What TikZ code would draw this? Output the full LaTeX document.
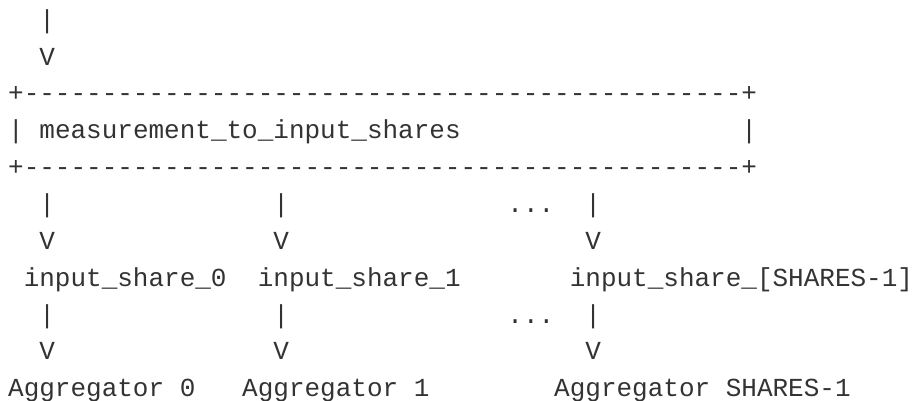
\documentclass[tikz,border=0pt]{standalone}
\usepackage{fontspec}
\setmonofont{Liberation Mono}
\definecolor{ink}{HTML}{333333}
\newcommand{\tenDash}{----------}
\begin{document}
\begin{tikzpicture}[x=1pt,y=1pt,
  ascii/.style={anchor=base west, inner sep=0pt, outer sep=0pt, text=ink,
    font=\ttfamily\fontsize{26}{30}\selectfont}]
\useasboundingbox (0,0) rectangle (913,-401);
% column c -> x = 8.2 + 15.6*c ; row r -> baseline y = -(28.3 + 36.84*(r-1))
\newcommand{\tok}[4]{\node[ascii] (#4) at ({8.2+15.6*#1},{-(28.3+36.84*(#2-1))}) {#3};}
% row 1-2
\tok{2}{1}{|}{inpipe}
\tok{2}{2}{V}{inarrow}
% box
\tok{0}{3}{+\tenDash\tenDash\tenDash\tenDash------+}{boxtop}
\tok{0}{4}{|}{boxleft}
\tok{2}{4}{measurement\_to\_input\_shares}{boxlabel}
\tok{47}{4}{|}{boxright}
\tok{0}{5}{+\tenDash\tenDash\tenDash\tenDash------+}{boxbottom}
% row 6-7
\tok{2}{6}{|}{pipeAa}
\tok{17}{6}{|}{pipeBa}
\tok{32}{6}{...}{dotsA}
\tok{37}{6}{|}{pipeCa}
\tok{2}{7}{V}{arrAa}
\tok{17}{7}{V}{arrBa}
\tok{37}{7}{V}{arrCa}
% row 8
\tok{1}{8}{input\_share\_0}{shareA}
\tok{16}{8}{input\_share\_1}{shareB}
\tok{36}{8}{input\_share\_[SHARES-1]}{shareC}
% row 9-10
\tok{2}{9}{|}{pipeAb}
\tok{17}{9}{|}{pipeBb}
\tok{32}{9}{...}{dotsB}
\tok{37}{9}{|}{pipeCb}
\tok{2}{10}{V}{arrAb}
\tok{17}{10}{V}{arrBb}
\tok{37}{10}{V}{arrCb}
% row 11
\tok{0}{11}{Aggregator 0}{aggA}
\tok{15}{11}{Aggregator 1}{aggB}
\tok{35}{11}{Aggregator SHARES-1}{aggC}
\end{tikzpicture}
\end{document}
